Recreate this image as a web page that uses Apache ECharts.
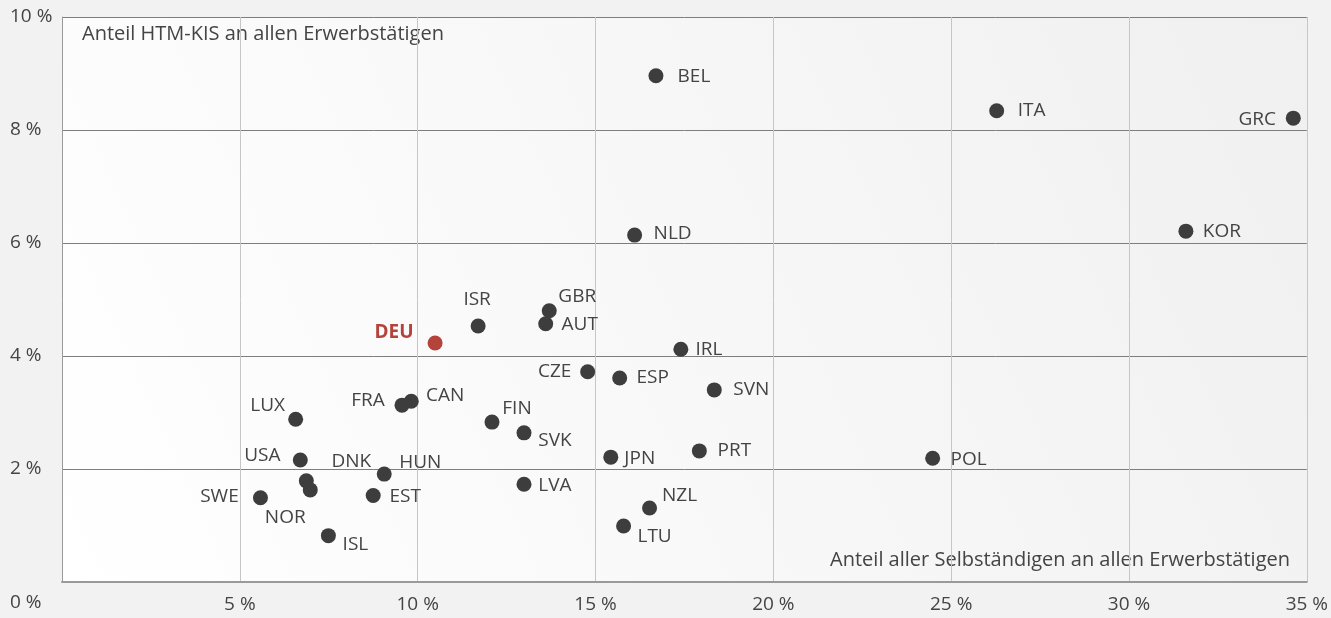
<!DOCTYPE html>
<html><head><meta charset="utf-8">
<script src="https://cdn.jsdelivr.net/npm/echarts@6/dist/echarts.min.js"></script>
<style>html,body{margin:0;padding:0;background:#f2f2f2;}#c{width:1331px;height:618px;}</style>
</head><body><div id="c"></div>
<script>
// Data: share of all self-employed (x, %) and share HTM-KIS (y, %)
const countries = ['BEL','ITA','GRC','KOR','NLD','GBR','AUT','ISR','DEU','IRL','CZE','ESP','SVN','CAN','FRA','LUX','FIN','SVK','JPN','PRT','POL','USA','DNK','HUN','EST','SWE','NOR','LVA','NZL','LTU','ISL'];
const selfEmployed = [16.70,26.28,34.62,31.60,16.10,13.70,13.60,11.70,10.49,17.40,14.78,15.68,18.34,9.82,9.56,6.57,12.09,12.99,15.43,17.92,24.48,6.70,6.87,9.06,8.75,5.58,6.98,12.99,16.52,15.79,7.49];
const htmKis = [8.96,8.34,8.21,6.21,6.14,4.80,4.57,4.53,4.23,4.12,3.72,3.61,3.40,3.20,3.13,2.88,2.83,2.64,2.21,2.32,2.19,2.16,1.79,1.91,1.53,1.49,1.63,1.73,1.31,0.99,0.82];
const xTicks = [0,5,10,15,20,25,30,35];
const yTicks = [0,2,4,6,8,10];
const highlight = 'DEU';

// label placement (pixel offsets of label centre from the dot)
const labelOffsets = {
  BEL:[38,1],ITA:[35,0],GRC:[-36,1],KOR:[36,0],NLD:[38,-1],GBR:[28,-14],AUT:[34,1],ISR:[-1,-26],
  DEU:[-41,-10],IRL:[28,0],CZE:[-33,0],ESP:[33,0],SVN:[37,0],CAN:[34,-6],FRA:[-34,-5],LUX:[-28,-14],
  FIN:[25,-14],SVK:[31,8],JPN:[29,1],PRT:[35,0],POL:[36,1],USA:[-38,-4],DNK:[45,-19],HUN:[36,-11],
  EST:[32,1],SWE:[-41,-1],NOR:[-25,28],LVA:[31,1],NZL:[30,-12],LTU:[31,11],ISL:[27,9]
};

const FONT = '"Open Sans", "Noto Sans", sans-serif';
const SYM = 15;
const data = countries.map((c,i)=>{
  const isH = c===highlight;
  const o = labelOffsets[c] || [30,0];
  return {
    name:c,
    value:[selfEmployed[i], htmKis[i]],
    itemStyle:{color: isH ? '#b3433b' : '#3d3d3d', opacity:1},
    label:{
      show:true, formatter:c, position:[SYM/2+o[0], SYM/2+o[1]], align:'center', verticalAlign:'middle',
      color: isH ? '#b3433b' : '#444444',
      fontWeight: isH ? 'bold' : 'normal',
      fontSize:19, fontFamily:FONT
    }
  };
});

const chart = echarts.init(document.getElementById('c'));
chart.setOption({
  backgroundColor:'#f2f2f2',
  animation:false,
  grid:{left:62,right:20,top:17,bottom:36,show:true,borderWidth:0,
    backgroundColor:new echarts.graphic.LinearGradient(0,1,1,0,[{offset:0,color:'#ffffff'},{offset:1,color:'#f0f0f0'}])},
  xAxis:{type:'value',min:xTicks[0],max:xTicks[xTicks.length-1],interval:5,
    axisLine:{show:true,lineStyle:{color:'#9a9a9a',width:2}},
    axisTick:{show:false},
    splitLine:{show:true,lineStyle:{color:'#c6c6c6',width:1}},
    axisLabel:{showMinLabel:false,margin:13,color:'#444444',fontSize:19,fontFamily:FONT,formatter:v=>v+' %'}
  },
  yAxis:{type:'value',min:yTicks[0],max:yTicks[yTicks.length-1],interval:2,
    axisLine:{show:true,lineStyle:{color:'#9a9a9a',width:1}},
    axisTick:{show:false},
    splitLine:{show:true,lineStyle:{color:'#7e7e7e',width:1}},
    axisLabel:{showMinLabel:false,align:'left',margin:52,color:'#444444',fontSize:19,fontFamily:FONT,formatter:v=>v+' %'}
  },
  graphic:[
    {type:'text',left:10,top:593,style:{text:'0 %',fill:'#444444',font:'19px '+FONT}},
    {type:'text',left:82,top:24,style:{text:'Anteil HTM-KIS an allen Erwerbstätigen',fill:'#444444',font:'20px '+FONT}},
    {type:'text',right:41,top:550,style:{text:'Anteil aller Selbständigen an allen Erwerbstätigen',fill:'#444444',font:'20px '+FONT}}
  ],
  series:[{type:'scatter',symbolSize:SYM,data:data,labelLayout:{hideOverlap:false}}]
});
</script></body></html>
